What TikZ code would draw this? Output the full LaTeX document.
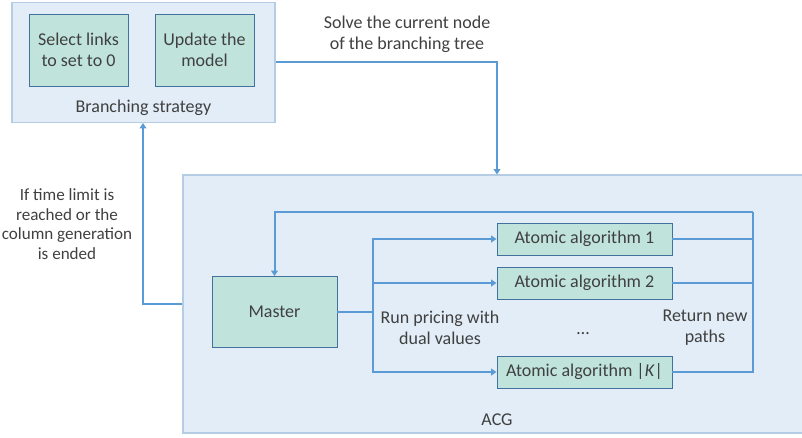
\documentclass[tikz,border=0pt]{standalone}
\usepackage{fontspec}
\setmainfont{Carlito}
\usepackage{amsmath}
\usetikzlibrary{arrows.meta}

\definecolor{lineblue}{HTML}{5B9BD5}
\definecolor{panelfill}{HTML}{E3EDF7}
\definecolor{paneldraw}{HTML}{B4CCE4}
\definecolor{boxfill}{HTML}{C0E4DB}
\definecolor{boxdraw}{HTML}{41719C}
\definecolor{txt}{HTML}{404040}

\begin{document}
\begin{tikzpicture}[x=0.75pt, y=-0.75pt,
    every node/.style={text=txt, font=\fontsize{13.5}{15.5}\selectfont},
    panel/.style={fill=panelfill, draw=paneldraw, line width=0.8pt},
    stepbox/.style={rectangle, fill=boxfill, draw=boxdraw, line width=0.7pt, align=center},
    note/.style={align=center, inner sep=0pt},
    link/.style={draw=lineblue, line width=1.5pt},
    arrow/.style={link, -{Triangle[width=5pt, length=4pt]}}]

    \useasboundingbox (0,0) rectangle (802,438);
    \clip (0,0) rectangle (802,438);

    % Branching strategy panel
    \node[panel, minimum width=263*0.75pt, minimum height=120*0.75pt] (branch) at (143.5,62.5) {};
    \node[stepbox, minimum width=99*0.75pt, minimum height=72*0.75pt] (select) at (78.5,50) {Select links\\to set to 0};
    \node[stepbox, minimum width=99*0.75pt, minimum height=72*0.75pt] (update) at (204.5,50) {Update the\\model};
    \node[note] (branchlabel) at (143.5,108) {Branching strategy};

    % ACG panel
    \node[panel, minimum width=630*0.75pt, minimum height=258*0.75pt] (acg) at (498,304) {};
    \node[note] (acglabel) at (497,420) {ACG};

    % Master and atomic algorithms
    \node[stepbox, minimum width=125*0.75pt, minimum height=71*0.75pt] (master) at (274.5,312) {Master};
    \node[stepbox, minimum width=175*0.75pt, minimum height=32*0.75pt] (algo1) at (584.5,239) {Atomic algorithm 1};
    \node[stepbox, minimum width=175*0.75pt, minimum height=32*0.75pt] (algo2) at (584.5,283) {Atomic algorithm 2};
    \node[stepbox, minimum width=175*0.75pt, minimum height=32*0.75pt] (algoK) at (584.5,372) {Atomic algorithm |\textit{K}|};
    \node[note] (dots) at (583,334) {\dots};

    % Junction points
    \coordinate (split) at (373,312);
    \coordinate (join) at (753,212);

    % Pricing: master to every algorithm
    \draw[link] (master.east) -- (split);
    \draw[arrow] (split) |- (algo1.west);
    \draw[arrow] (split |- algo2.west) -- (algo2.west);
    \draw[arrow] (split) |- (algoK.west);

    % Return of new paths
    \draw[link] (algo1.east) -| (join);
    \draw[link] (algo2.east) -- (join |- algo2.east);
    \draw[link] (algoK.east) -| (join);
    \draw[arrow] (join) -| (master.north);

    % Between the panels
    \draw[arrow] (branch.east |- 0,62) -| (acg.north -| 497,0);
    \draw[arrow] (acg.west |- 0,304) -| (branch.south -| 143,0);

    % Labels
    \node[note] (solve) at (407,34) {Solve the current node\\of the branching tree};
    \node[note, font=\fontsize{12.8}{14.6}\selectfont] (timelimit) at (67,224) {If time limit is\\reached or the\\column generation\\is ended};
    \node[note] (pricing) at (440,327.5) {Run pricing with\\dual values};
    \node[note] (return) at (705,327.5) {Return new\\paths};
\end{tikzpicture}
\end{document}
